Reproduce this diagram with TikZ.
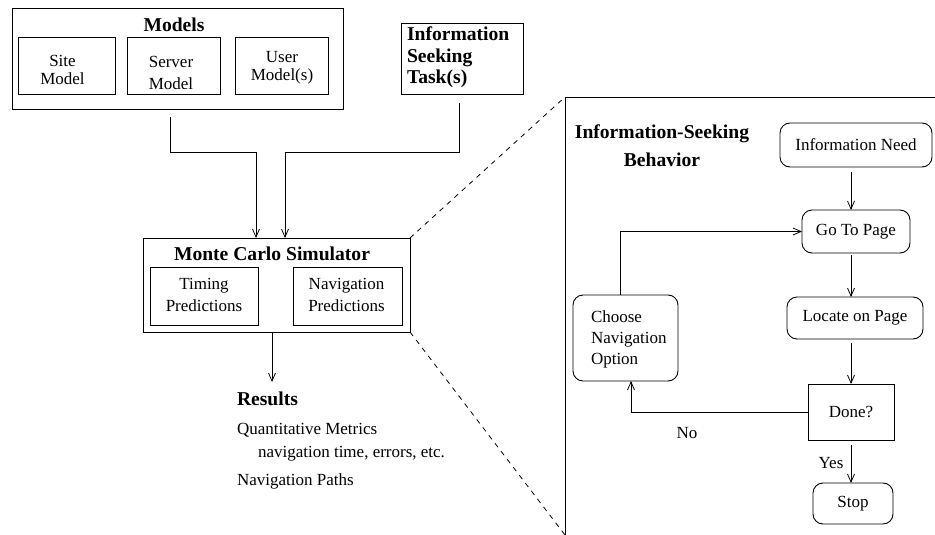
\documentclass[tikz,border=0pt]{standalone}
\usepackage{fontspec}
\setmainfont{Liberation Serif}
\usetikzlibrary{arrows.meta}
\begin{document}
\begin{tikzpicture}[x=1pt,y=-1pt,
  every node/.style={inner sep=0pt, outer sep=0pt},
  txt/.style={font=\fontsize{17}{20}\selectfont},
  ttl/.style={font=\bfseries\fontsize{19.6}{22}\selectfont},
  box/.style={draw, line width=0.9pt},
  rbox/.style={draw, line width=0.9pt, rounded corners=10pt, font=\fontsize{17}{20}\selectfont},
  arr/.style={line width=0.8pt, -{Straight Barb[length=8pt,width=7pt]}},
  dashlink/.style={line width=0.8pt, dash pattern=on 5pt off 5pt},
]
\useasboundingbox (0,0) rectangle (935,535);

% ---------- Models ----------
\node[box, minimum width=331, minimum height=101] (models) at (177.5,58.5) {};
\node[ttl, anchor=base] (modelsT) at (174,32) {Models};
\node[box, minimum width=97, minimum height=57] (site) at (66.5,65.5) {};
\node[txt, font=\fontsize{17}{18}\selectfont, align=center] (siteT) at (62.5,69.7) {Site\\Model};
\node[box, minimum width=93, minimum height=57] (server) at (173.5,65.5) {};
\node[txt, font=\fontsize{17}{22}\selectfont, align=center] (serverT) at (171,73.2) {Server\\Model};
\node[box, minimum width=93, minimum height=57] (user) at (281.5,65.5) {};
\node[txt, font=\fontsize{17}{18}\selectfont, align=center] (userT) at (282,68.2) {User\\Model(s)};

% ---------- Task ----------
\node[box, minimum width=122, minimum height=71] (task) at (462,58.5) {};
\node[ttl, font=\bfseries\fontsize{19.6}{21.5}\selectfont, align=left, anchor=west] (taskT) at (407,57.5)
  {Information\\Seeking\\Task(s)};

% ---------- Simulator ----------
\node[box, minimum width=267, minimum height=94] (mc) at (276.5,285) {};
\node[ttl, anchor=base] (mcT) at (272,260) {Monte Carlo Simulator};
\node[box, minimum width=108, minimum height=58] (timing) at (204,296) {};
\node[txt, font=\fontsize{17}{22}\selectfont, align=center] (timingT) at (204,295) {Timing\\Predictions};
\node[box, minimum width=109, minimum height=58] (navpred) at (347.5,296) {};
\node[txt, font=\fontsize{17}{22}\selectfont, align=center] (navpredT) at (346.5,295) {Navigation\\Predictions};

% inputs into the simulator
\coordinate (mx) at (170,0);
\coordinate (tx) at (459,0);
\coordinate (m1) at (256,0);
\coordinate (t1) at (285,0);
\coordinate (joinY) at (0,152);
\draw[arr, shorten <=8pt] (models.south -| mx) -- (mx |- joinY) -| (mc.north -| m1);
\draw[arr, shorten <=9pt] (task.south -| tx) -- (tx |- joinY) -| (mc.north -| t1);

% ---------- Results ----------
\coordinate (rx) at (272,0);
\coordinate (resin) at (272,382);
\draw[arr] (mc.south -| rx) -- (resin);
\node[ttl, anchor=base west] (results) at (237,405) {Results};
\node[txt, anchor=base west] (quant) at (237,434) {Quantitative Metrics};
\node[txt, anchor=base west] (quantD) at (258,457) {navigation time, errors, etc.};
\node[txt, anchor=base west] (paths) at (237,485) {Navigation Paths};

% ---------- Behaviour panel ----------
\coordinate (pTL) at (565,97);
\coordinate (pBL) at (565,535);
\coordinate (pTR) at (935,97);
\draw[line width=0.9pt] (pBL) -- (pTL) -- (pTR);
\draw[dashlink] (mc.north east) -- (pTL);
\draw[dashlink] (mc.south east) -- (pBL);

\node[ttl, font=\bfseries\fontsize{19.6}{28}\selectfont, align=center] (behT) at (662,145.8)
  {Information-Seeking\\Behavior};

\node[rbox, minimum width=152, minimum height=44] (need) at (856,145) {Information Need};
\node[rbox, minimum width=108, minimum height=43] (go) at (856,231.5) {Go To Page};
\node[rbox, minimum width=136, minimum height=42] (locate) at (855,318) {Locate on Page};
\node[box, txt, minimum width=86, minimum height=56] (done) at (851,412) {Done?};
\node[rbox, minimum width=80, minimum height=41] (stop) at (853,503.5) {Stop};
\node[rbox, minimum width=105, minimum height=86] (choose) at (625.5,338) {};
\node[txt, font=\fontsize{17}{21}\selectfont, align=left, anchor=west] (chooseT) at (591,339.5)
  {Choose\\Navigation\\Option};

\coordinate (ax) at (851,0);
\coordinate (lx) at (620,0);
\coordinate (nx) at (631,0);
\draw[arr, shorten <=5pt] (need.south -| ax) -- (go.north -| ax);
\draw[arr, shorten <=2pt] (go.south -| ax) -- (locate.north -| ax);
\draw[arr, shorten <=4pt] (locate.south -| ax) -- (done.north -| ax);
\draw[arr, shorten <=5pt] (done.south -| ax) -- (stop.north -| ax);
\draw[arr] (choose.north -| lx) |- (go.west);
\draw[arr] (done.west) -| (choose.south -| nx);

\node[txt] (noL) at (687,433) {No};
\node[txt] (yesL) at (831,463) {Yes};
\end{tikzpicture}
\end{document}
